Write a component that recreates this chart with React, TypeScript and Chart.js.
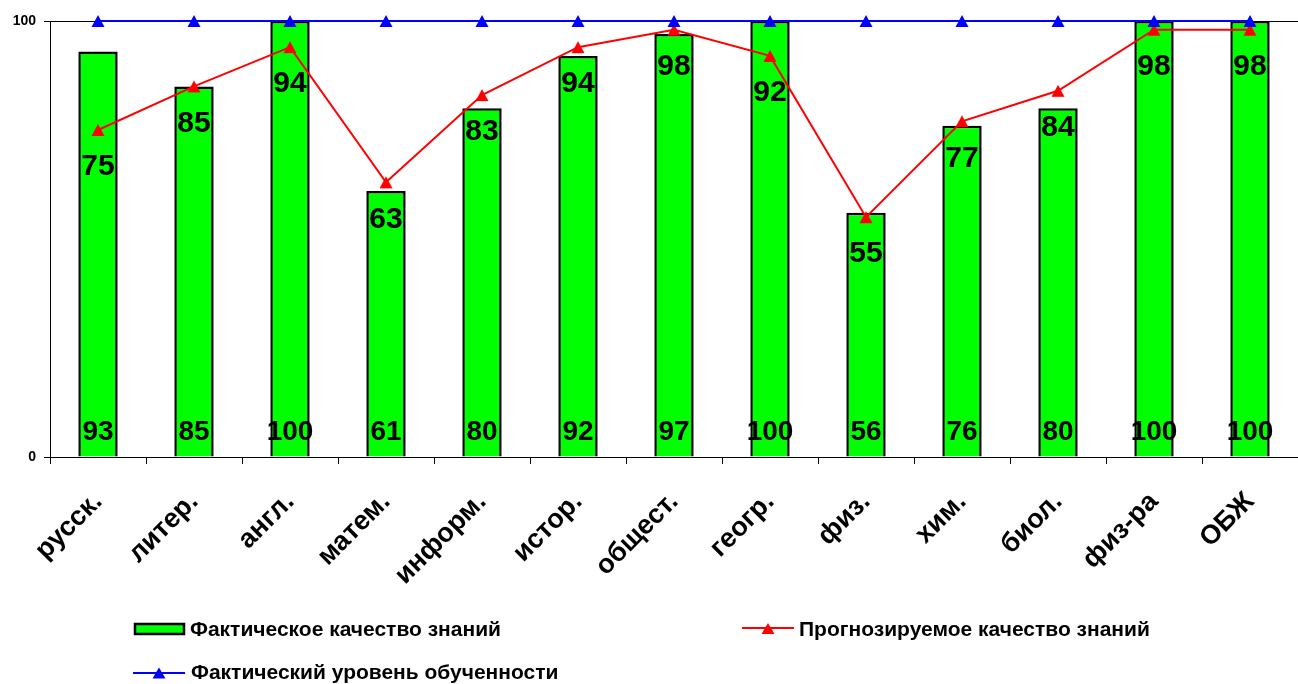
import React, { useEffect, useRef } from "react";
import { Chart, registerables } from "chart.js";

Chart.register(...registerables);

const categories = ["русск.", "литер.", "англ.", "матем.", "информ.", "истор.", "общест.", "геогр.", "физ.", "хим.", "биол.", "физ-ра", "ОБЖ"];
const actualQuality = [93, 85, 100, 61, 80, 92, 97, 100, 56, 76, 80, 100, 100];
const forecastQuality = [75, 85, 94, 63, 83, 94, 98, 92, 55, 77, 84, 98, 98];
const learningLevel = [100, 100, 100, 100, 100, 100, 100, 100, 100, 100, 100, 100, 100];
const yTicks = [0, 100];

const seriesNames = ["Фактическое качество знаний", "Прогнозируемое качество знаний", "Фактический уровень обученности"];

const FONT = "'Liberation Sans', Arial, sans-serif";

function triPath(ctx: any, cx: number, cy: number, w: number, h: number) {
  ctx.beginPath();
  ctx.moveTo(cx, cy - h / 2);
  ctx.lineTo(cx + w / 2, cy + h / 2);
  ctx.lineTo(cx - w / 2, cy + h / 2);
  ctx.closePath();
}

function makeTriangle(color: string): HTMLCanvasElement {
  const c = document.createElement("canvas");
  c.width = 14;
  c.height = 14;
  const ctx = c.getContext("2d")!;
  ctx.fillStyle = color;
  triPath(ctx, 7, 7, 13, 12);
  ctx.fill();
  return c;
}

const labelsPlugin = {
  id: "valueLabels",
  afterDatasetsDraw(chart: any) {
    const ctx = chart.ctx;
    const y0 = chart.scales.y.getPixelForValue(0);
    ctx.save();
    ctx.fillStyle = "#000";
    ctx.textAlign = "center";
    ctx.textBaseline = "middle";
    const barMeta = chart.getDatasetMeta(0);
    ctx.font = `bold 28px ${FONT}`;
    barMeta.data.forEach((el: any, i: number) => {
      ctx.fillText(String(actualQuality[i]), el.x, y0 - 25);
    });
    const lineMeta = chart.getDatasetMeta(1);
    ctx.font = `bold 30px ${FONT}`;
    lineMeta.data.forEach((el: any, i: number) => {
      ctx.fillText(String(forecastQuality[i]), el.x, el.y + 37);
    });
    ctx.restore();
  },
};

const legendPlugin = {
  id: "customLegend",
  afterDraw(chart: any) {
    const ctx = chart.ctx;
    ctx.save();
    ctx.font = `bold 21px ${FONT}`;
    ctx.textBaseline = "middle";
    ctx.textAlign = "left";
    // item 1
    ctx.fillStyle = "#00FF00";
    ctx.fillRect(135, 624, 49, 10);
    ctx.strokeStyle = "#000";
    ctx.lineWidth = 2.5;
    ctx.strokeRect(135, 624, 49, 10);
    ctx.fillStyle = "#000";
    ctx.fillText(seriesNames[0], 190, 630);
    // item 2
    ctx.strokeStyle = "#FF0000";
    ctx.lineWidth = 2;
    ctx.beginPath();
    ctx.moveTo(742, 628);
    ctx.lineTo(794, 628);
    ctx.stroke();
    ctx.fillStyle = "#FF0000";
    triPath(ctx, 768, 628.5, 13, 11);
    ctx.fill();
    ctx.fillStyle = "#000";
    ctx.fillText(seriesNames[1], 799, 630);
    // item 3
    ctx.strokeStyle = "#0000FF";
    ctx.beginPath();
    ctx.moveTo(133, 673);
    ctx.lineTo(185, 673);
    ctx.stroke();
    ctx.fillStyle = "#0000FF";
    triPath(ctx, 159, 673, 13, 11);
    ctx.fill();
    ctx.fillStyle = "#000";
    ctx.fillText(seriesNames[2], 191, 673);
    ctx.restore();
  },
};

export default function App() {
  const ref = useRef<HTMLCanvasElement>(null);
  useEffect(() => {
    if (!ref.current) return;
    const redTri = makeTriangle("#FF0000");
    const blueTri = makeTriangle("#0000FF");
    const chart = new Chart(ref.current, {
      type: "bar",
      data: {
        labels: categories,
        datasets: [
          {
            type: "bar",
            label: seriesNames[0],
            data: actualQuality,
            backgroundColor: "#00FF00",
            borderColor: "#000000",
            borderWidth: 2.5,
            barPercentage: 0.41,
            categoryPercentage: 1,
            order: 3,
          } as any,
          {
            type: "line",
            label: seriesNames[1],
            data: forecastQuality,
            borderColor: "#FF0000",
            backgroundColor: "#FF0000",
            borderWidth: 2,
            pointStyle: redTri,
            pointRadius: 7,
            tension: 0,
            clip: false,
            order: 2,
          } as any,
          {
            type: "line",
            label: seriesNames[2],
            data: learningLevel,
            borderColor: "#0000FF",
            backgroundColor: "#0000FF",
            borderWidth: 2,
            pointStyle: blueTri,
            pointRadius: 7,
            tension: 0,
            clip: false,
            order: 1,
          } as any,
        ],
      },
      options: {
        responsive: false,
        animation: false,
        devicePixelRatio: 1,
        layout: { autoPadding: false, padding: { top: 21, left: 0, right: 0, bottom: 0 } },
        plugins: { legend: { display: false }, tooltip: { enabled: false } },
        scales: {
          x: {
            offset: true,
            grid: {
              display: true,
              offset: true,
              drawOnChartArea: false,
              drawTicks: true,
              tickLength: 7,
              color: "#000",
            },
            border: { display: true, color: "#000", width: 1 },
            ticks: {
              color: "#000",
              font: { family: FONT, size: 27, weight: "bold" },
              maxRotation: 45,
              minRotation: 45,
              autoSkip: false,
              padding: 22,
            },
            afterFit(scale: any) {
              scale.height = 227;
              scale.paddingLeft = 0;
              scale.paddingRight = 0;
            },
          },
          y: {
            min: 0,
            max: 100,
            afterBuildTicks(scale: any) {
              scale.ticks = yTicks.map((v) => ({ value: v }));
            },
            grid: {
              color: "#000",
              drawTicks: true,
              tickLength: 6,
              lineWidth: 1,
            },
            border: { display: true, color: "#000", width: 1 },
            ticks: {
              color: "#000",
              font: { family: FONT, size: 14, weight: "bold" },
              padding: 8,
            },
            afterFit(scale: any) {
              scale.width = 50;
            },
          },
        },
      },
      plugins: [labelsPlugin, legendPlugin],
    });
    return () => chart.destroy();
  }, []);
  return (
    <div style={{ position: "fixed", left: 0, top: 0, width: 1298, height: 684, background: "#fff" }}>
      <canvas ref={ref} width={1298} height={684} />
    </div>
  );
}
